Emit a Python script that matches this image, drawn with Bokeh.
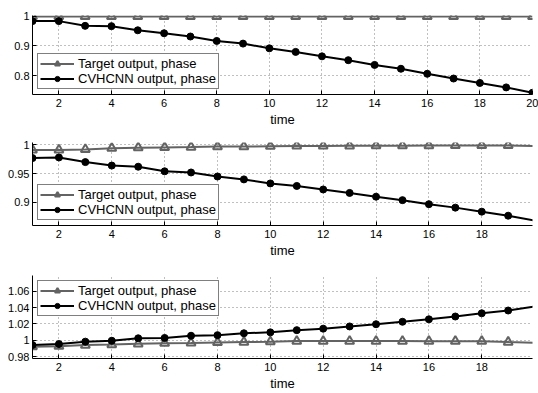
import numpy as np
from bokeh.plotting import figure
from bokeh.layouts import column
from bokeh.models import Range1d, FixedTicker, CustomJSTickFormatter
from bokeh.embed import file_html
from bokeh.resources import INLINE

time = [1, 2, 3, 4, 5, 6, 7, 8, 9, 10, 11, 12, 13, 14, 15, 16, 17, 18, 19, 20]

target_1 = [1.0, 1.0, 1.0, 1.0, 1.0, 1.0, 1.0, 1.0, 1.0, 1.0,
            1.0, 1.0, 1.0, 1.0, 1.0, 1.0, 1.0, 1.0, 1.0, 1.0]
cvhcnn_1 = [0.984, 0.984, 0.968, 0.967, 0.953, 0.943, 0.932, 0.917, 0.908, 0.892,
            0.880, 0.865, 0.852, 0.836, 0.823, 0.806, 0.790, 0.775, 0.760, 0.742]

target_2 = [0.991, 0.991, 0.992, 0.994, 0.995, 0.9955, 0.996, 0.997, 0.997, 0.9975,
            0.998, 0.998, 0.9983, 0.9985, 0.9985, 0.9987, 0.9988, 0.999, 0.999, 0.998]
cvhcnn_2 = [0.977, 0.978, 0.970, 0.964, 0.962, 0.954, 0.952, 0.945, 0.940, 0.933,
            0.9286, 0.9225, 0.9165, 0.910, 0.904, 0.897, 0.891, 0.884, 0.877, 0.8685]

target_3 = [0.9924, 0.993, 0.9943, 0.995, 0.9958, 0.9966, 0.997, 0.9975, 0.998, 0.9985,
            0.9992, 0.9992, 0.9992, 0.9992, 0.9992, 0.9991, 0.9991, 0.999, 0.998, 0.9972]
cvhcnn_3 = [0.9943, 0.9955, 0.9985, 0.9996, 1.0026, 1.003, 1.0057, 1.0064, 1.0087, 1.0098,
            1.0125, 1.0143, 1.017, 1.0197, 1.0227, 1.0257, 1.0291, 1.033, 1.0364, 1.0413]

x_ticks = [2, 4, 6, 8, 10, 12, 14, 16, 18, 20]
y_ticks_1 = [0.8, 0.9, 1.0]
y_ticks_2 = [0.9, 0.95, 1.0]
y_ticks_3 = [0.98, 1.0, 1.02, 1.04, 1.06]

label_target = "Target output, phase"
label_cvhcnn = "CVHCNN output, phase"

FONT = "Liberation Sans"
GRAY = "#636363"


def panel(tgt, cvh, yticks, xr, yr, legend_loc, height, btop, bbot):
    p = figure(width=538, height=height, output_backend="svg", toolbar_location=None,
               x_range=Range1d(*xr), y_range=Range1d(*yr),
               min_border_left=32, min_border_right=6,
               min_border_top=btop, min_border_bottom=bbot)
    p.outline_line_color = None
    x = np.array(time, dtype=float)
    t = np.array(tgt)
    c = np.array(cvh)
    m = x <= xr[1] + 1e-9
    p.line(x, t, line_color=GRAY, line_width=2, legend_label=label_target)
    p.scatter(x[m], t[m], marker="triangle", size=9, line_color=GRAY, line_width=2,
              fill_color=None, legend_label=label_target)
    p.line(x, c, line_color="black", line_width=2, legend_label=label_cvhcnn)
    p.scatter(x[m], c[m], marker="circle", size=7, line_color="black",
              fill_color="black", legend_label=label_cvhcnn)

    p.xaxis.ticker = FixedTicker(ticks=x_ticks)
    p.yaxis.ticker = FixedTicker(ticks=yticks)
    p.yaxis.formatter = CustomJSTickFormatter(code="return Number(tick.toFixed(3)).toString();")
    p.xaxis.axis_label = "time"
    for ax in (p.xaxis, p.yaxis):
        ax.major_tick_in = 4
        ax.major_tick_out = 0
        ax.minor_tick_line_color = None
        ax.axis_line_color = "black"
        ax.major_tick_line_color = "black"
        ax.major_label_text_font = FONT
        ax.major_label_text_font_size = "11px"
        ax.major_label_text_color = "black"
        ax.major_label_text_line_height = 1.0
    p.xaxis.major_label_standoff = 4
    p.yaxis.major_label_standoff = 3
    p.xaxis.axis_label_text_font = FONT
    p.xaxis.axis_label_text_font_size = "13px"
    p.xaxis.axis_label_text_font_style = "normal"
    p.xaxis.axis_label_text_color = "black"
    p.xaxis.axis_label_text_line_height = 1.0
    p.xaxis.axis_label_standoff = 2
    for g in (p.xgrid, p.ygrid):
        g.grid_line_color = "#808080"
        g.grid_line_dash = "1 3"
        g.grid_line_width = 1

    lg = p.legend[0]
    lg.location = legend_loc
    lg.margin = 5
    lg.padding = 2
    lg.spacing = 0
    lg.glyph_width = 34
    lg.glyph_height = 13
    lg.label_height = 13
    lg.label_standoff = 4
    lg.label_text_font = FONT
    lg.label_text_font_size = "13px"
    lg.label_text_color = "black"
    lg.border_line_color = "black"
    lg.border_line_width = 1.5
    lg.background_fill_color = "white"
    lg.background_fill_alpha = 1
    return p


p1 = panel(target_1, cvhcnn_1, y_ticks_1, (1, 20), (0.736, 1.003), "bottom_left", 129, 15, 31)
p2 = panel(target_2, cvhcnn_2, y_ticks_2, (1, 19.92), (0.860, 1.004), "bottom_left", 131, 13, 31)
p3 = panel(target_3, cvhcnn_3, y_ticks_3, (1, 19.92), (0.978, 1.079), "top_left", 133, 15, 29)

layout = column(p1, p2, p3, spacing=0)
open("out.html", "w").write(file_html(layout, INLINE))
